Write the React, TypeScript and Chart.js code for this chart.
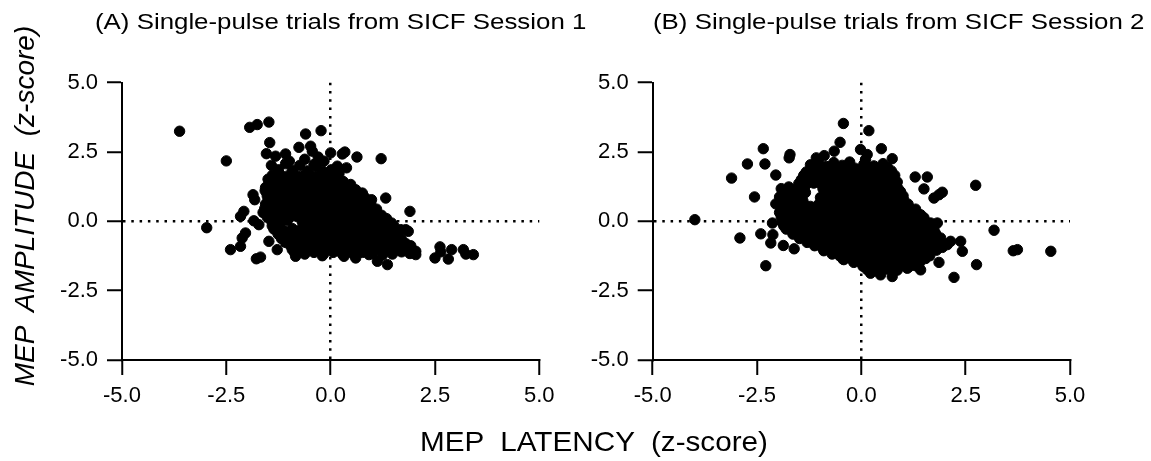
import React, { useEffect, useRef } from "react";
import { Chart, registerables } from "chart.js";

Chart.register(...registerables);

// ---------- text ----------
const panelTitles = [
  "(A) Single-pulse trials from SICF Session 1",
  "(B) Single-pulse trials from SICF Session 2",
];
const xAxisTitle = "MEP  LATENCY  (z-score)";
const yAxisTitle = "MEP  AMPLITUDE  (z-score)";

// ---------- axes ----------
const axisMin = -5;
const axisMax = 5;
const axisStep = 2.5;

// ---------- data: [latency z, amplitude z] ----------
const session1Spread: Array<[number, number]> = [
  [-3.62, 3.25], [-2.50, 2.18], [-2.97, -0.23],
  [-1.94, 3.39], [-1.76, 3.49], [-1.48, 3.58],
  [-1.46, 2.84], [-1.54, 2.44],
  [-0.60, 3.15], [-0.23, 3.27],
  [-0.76, 2.67], [-0.48, 2.71], [-0.44, 2.53],
  [0.00, 2.47], [0.28, 2.43], [0.34, 2.50], [0.63, 2.32], [1.21, 2.26],
  [-1.32, 2.35], [-1.08, 2.43], [-0.99, 2.17],
  [-0.16, 2.17], [-0.40, 2.05], [0.16, 1.99], [0.38, 1.93],
  [1.32, 0.84], [1.90, 0.36],
  [-1.86, 0.96], [-1.82, 0.78], [-1.57, 1.11],
  [-2.08, 0.36], [-2.16, 0.18],
  [-1.84, 0.02], [-1.72, -0.12],
  [-2.04, -0.42], [-2.12, -0.60], [-2.16, -0.90], [-2.40, -1.02],
  [-1.78, -1.35], [-1.68, -1.29],
  [-1.48, -0.72], [-1.28, -1.02],
  [-0.84, -1.26], [-0.20, -1.24], [0.32, -1.26], [0.60, -1.32],
  [0.92, -1.20], [1.12, -1.44], [1.36, -1.56],
  [1.20, -0.96], [1.44, -0.84], [1.68, -0.72], [1.80, -0.30],
  [1.86, -0.36], [1.68, -0.30], [2.04, -1.08], [1.96, -1.02], [2.04, -1.20],
  [2.50, -1.32], [2.62, -0.92], [2.64, -1.10], [2.82, -1.36], [2.90, -1.02],
  [3.18, -1.02], [3.24, -1.18], [3.42, -1.20],
];

const session1Cluster: Array<[number, number]> = [
  [-1.42, 2.02], [-1.25, 1.86], [-1.08, 2.08], [-0.92, 1.84], [-0.74, 2.02], [-0.56, 1.82],
  [-0.34, 1.98], [-0.18, 1.80], [0.02, 1.86], [-0.62, 2.24], [-0.30, 2.32],
  [-1.40, 1.66], [-1.22, 1.70], [-1.04, 1.63], [-0.86, 1.68], [-0.68, 1.64], [-0.50, 1.70],
  [-0.32, 1.63], [-0.14, 1.68], [0.04, 1.66], [0.20, 1.72],
  [-1.50, 1.52], [-1.32, 1.60], [-1.14, 1.48], [-0.96, 1.58], [-0.78, 1.50], [-0.60, 1.62],
  [-0.42, 1.46], [-0.24, 1.56], [-0.06, 1.50], [0.12, 1.60], [0.30, 1.44],
  [-1.48, 1.36], [-1.30, 1.33], [-1.12, 1.38], [-0.94, 1.34], [-0.76, 1.37], [-0.58, 1.32],
  [-0.40, 1.38], [-0.22, 1.34], [-0.04, 1.36], [0.14, 1.32], [0.32, 1.37], [0.48, 1.33],
  [-1.56, 1.22], [-1.38, 1.28], [-1.20, 1.16], [-1.02, 1.24], [-0.84, 1.18], [-0.66, 1.30],
  [-0.48, 1.20], [-0.30, 1.26], [-0.12, 1.16], [0.06, 1.24], [0.24, 1.18], [0.42, 1.28], [0.60, 1.14],
  [-1.54, 1.06], [-1.36, 1.03], [-1.18, 1.08], [-1.00, 1.04], [-0.82, 1.07], [-0.64, 1.02],
  [-0.46, 1.08], [-0.28, 1.04], [-0.10, 1.06], [0.08, 1.02], [0.26, 1.07], [0.44, 1.03],
  [0.62, 1.06], [0.76, 1.02],
  [-1.52, 0.92], [-1.34, 0.86], [-1.16, 0.96], [-0.98, 0.88], [-0.80, 0.94], [-0.62, 0.84],
  [-0.44, 0.92], [-0.26, 0.88], [-0.08, 0.96], [0.10, 0.86], [0.28, 0.92], [0.46, 0.88],
  [0.64, 0.96], [0.82, 0.86],
  [-1.50, 0.76], [-1.32, 0.73], [-1.14, 0.78], [-0.96, 0.74], [-0.78, 0.77], [-0.60, 0.72],
  [-0.42, 0.78], [-0.24, 0.74], [-0.06, 0.76], [0.12, 0.72], [0.30, 0.77], [0.48, 0.73],
  [0.66, 0.76], [0.84, 0.72], [0.98, 0.78],
  [-1.56, 0.62], [-1.38, 0.58], [-1.20, 0.66], [-1.02, 0.56], [-0.84, 0.62], [-0.66, 0.58],
  [-0.48, 0.64], [-0.30, 0.56], [-0.12, 0.62], [0.06, 0.58], [0.24, 0.66], [0.42, 0.56],
  [0.60, 0.62], [0.78, 0.58], [0.96, 0.64],
  [-1.58, 0.46], [-1.40, 0.43], [-1.22, 0.48], [-1.04, 0.44], [-0.86, 0.47], [-0.68, 0.42],
  [-0.50, 0.48], [-0.32, 0.44], [-0.14, 0.46], [0.04, 0.42], [0.22, 0.47], [0.40, 0.43],
  [0.58, 0.46], [0.76, 0.42], [0.94, 0.48], [1.10, 0.44],
  [-1.62, 0.32], [-1.44, 0.26], [-1.26, 0.34], [-1.08, 0.28], [-0.90, 0.32], [-0.72, 0.24],
  [-0.54, 0.34], [-0.36, 0.28], [-0.18, 0.32], [0.00, 0.26], [0.18, 0.34], [0.36, 0.28],
  [0.54, 0.30], [0.72, 0.24], [0.90, 0.34], [1.08, 0.28], [1.22, 0.22],
  [-1.52, 0.16], [-1.34, 0.13], [-1.16, 0.18], [-0.98, 0.14], [-0.80, 0.17], [-0.62, 0.12],
  [-0.44, 0.18], [-0.26, 0.14], [-0.08, 0.16], [0.10, 0.12], [0.28, 0.17], [0.46, 0.13],
  [0.64, 0.16], [0.82, 0.12], [1.00, 0.18], [1.18, 0.14], [1.34, 0.10],
  [-1.42, 0.02], [-1.22, -0.04], [-1.04, 0.04], [-0.68, -0.02], [-0.50, 0.04], [-0.32, -0.04],
  [-0.14, 0.02], [0.04, -0.02], [0.22, 0.04], [0.40, -0.04], [0.58, 0.02], [0.76, -0.02],
  [0.94, 0.04], [1.12, -0.04], [1.30, 0.02], [1.46, -0.06],
  [-1.40, -0.16], [-1.22, -0.13], [-0.60, -0.17], [-0.42, -0.13], [-0.24, -0.16], [-0.06, -0.12],
  [0.12, -0.17], [0.30, -0.13], [0.48, -0.16], [0.66, -0.12], [0.84, -0.17], [1.02, -0.13],
  [1.20, -0.16], [1.38, -0.12], [1.52, -0.18],
  [-1.36, -0.28], [-1.12, -0.34], [-0.92, -0.26], [-0.74, -0.32], [-0.56, -0.28], [-0.38, -0.34],
  [-0.20, -0.26], [-0.02, -0.32], [0.16, -0.28], [0.34, -0.34], [0.52, -0.26], [0.70, -0.32],
  [0.88, -0.28], [1.06, -0.34], [1.24, -0.26], [1.42, -0.32], [1.58, -0.40],
  [-1.26, -0.46], [-1.06, -0.43], [-0.88, -0.48], [-0.70, -0.44], [-0.52, -0.47], [-0.34, -0.42],
  [-0.16, -0.48], [0.02, -0.44], [0.20, -0.46], [0.38, -0.42], [0.56, -0.47], [0.74, -0.43],
  [0.92, -0.46], [1.10, -0.42], [1.28, -0.48], [1.46, -0.44], [1.62, -0.50],
  [-1.18, -0.62], [-1.00, -0.56], [-0.82, -0.64], [-0.64, -0.58], [-0.46, -0.62], [-0.28, -0.56],
  [-0.10, -0.64], [0.08, -0.58], [0.26, -0.62], [0.44, -0.56], [0.62, -0.64], [0.80, -0.58],
  [0.98, -0.62], [1.16, -0.56], [1.34, -0.64], [1.52, -0.58], [1.70, -0.66],
  [-1.08, -0.76], [-0.90, -0.73], [-0.72, -0.78], [-0.54, -0.74], [-0.36, -0.77], [-0.18, -0.72],
  [0.00, -0.78], [0.18, -0.74], [0.36, -0.76], [0.54, -0.72], [0.72, -0.77], [0.90, -0.73],
  [1.08, -0.76], [1.26, -0.72], [1.44, -0.78], [1.62, -0.74], [1.80, -0.80],
  [-0.96, -0.88], [-0.78, -0.94], [-0.60, -0.86], [-0.42, -0.92], [-0.24, -0.88], [-0.06, -0.94],
  [0.12, -0.86], [0.30, -0.92], [0.48, -0.88], [0.66, -0.94], [0.84, -0.86], [1.02, -0.92],
  [1.38, -0.92], [1.56, -0.88], [1.74, -0.94], [1.92, -0.88],
  [-0.92, -1.02], [-0.74, -1.05], [-0.52, -1.01], [-0.30, -1.04], [-0.08, -1.00], [0.14, -1.05],
  [0.36, -1.02], [0.58, -1.04], [0.80, -1.01], [1.02, -1.05], [1.24, -1.02], [1.46, -1.04],
  [1.68, -1.00], [1.86, -1.04],
  [-0.86, -1.14], [-0.62, -1.18], [-0.40, -1.12], [-0.16, -1.16], [0.06, -1.12], [0.28, -1.18],
  [0.52, -1.14], [0.76, -1.12], [1.00, -1.16], [1.24, -1.22], [1.48, -1.18], [1.70, -1.10], [1.90, -1.16],
];

const session2Spread: Array<[number, number]> = [
  [-3.99, 0.06], [-3.11, 1.56], [-2.73, 2.07], [-2.35, 2.62], [-2.31, 2.07], [-2.05, 1.67],
  [-2.56, 0.88], [-2.91, -0.60], [-2.41, -0.45], [-2.12, -0.48], [-2.17, -0.78],
  [-1.87, -0.87], [-1.61, -0.99], [-2.29, -1.60], [-1.71, 2.41], [-1.73, 2.29],
  [2.74, 1.30], [3.18, -0.32], [3.64, -1.06], [3.74, -1.02], [4.54, -1.08],
  [2.22, -2.02], [2.76, -1.56], [2.42, -1.08], [2.38, -0.72],
  [1.29, 1.60], [1.58, 1.60], [1.50, 1.17], [1.74, 0.84], [1.94, 1.05], [1.86, 0.96],
  [-0.43, 3.53], [0.18, 3.27], [-0.51, 2.85], [0.48, 2.62], [0.74, 2.26],
  [-0.02, 2.59], [0.14, 2.41], [0.10, 2.23], [-0.65, 2.53], [-1.08, 2.29], [-0.89, 2.37],
  [-1.37, 1.65], [1.82, -0.06], [-2.13, -0.06], [-2.05, 0.63],
  [1.86, -1.48], [2.14, -0.72], [1.90, -0.60], [1.42, -0.12], [1.74, -0.30],
  [0.22, -1.87], [0.46, -1.93], [0.74, -1.99], [1.10, -1.69], [1.42, -1.75], [-0.42, -1.38],
];

const session2Cluster: Array<[number, number]> = [
  [-1.22, 2.04], [-1.02, 2.10], [-0.84, 1.98], [-0.66, 2.12], [-0.46, 2.02], [-0.28, 2.14],
  [0.06, 2.06], [0.30, 2.00], [0.52, 2.08],
  [-1.12, 1.94], [-0.94, 1.92], [-0.76, 1.96], [-0.56, 1.93], [-0.36, 1.95], [-0.16, 1.92],
  [0.20, 1.94], [0.42, 1.92], [0.62, 1.96],
  [-1.32, 1.78], [-1.14, 1.84], [-0.96, 1.76], [-0.78, 1.86], [-0.60, 1.78], [-0.42, 1.84],
  [-0.24, 1.76], [-0.06, 1.86], [0.14, 1.78], [0.34, 1.84], [0.54, 1.76], [0.72, 1.82],
  [-1.38, 1.66], [-1.20, 1.63], [-1.02, 1.68], [-0.84, 1.64], [-0.66, 1.67], [-0.48, 1.62],
  [-0.30, 1.68], [-0.12, 1.64], [0.06, 1.66], [0.24, 1.62], [0.44, 1.67], [0.64, 1.63], [0.80, 1.66],
  [-1.44, 1.50], [-1.26, 1.44], [-1.08, 1.54], [-0.90, 1.46], [-0.72, 1.52], [-0.54, 1.44],
  [-0.36, 1.54], [-0.18, 1.46], [0.00, 1.52], [0.18, 1.44], [0.36, 1.54], [0.54, 1.46],
  [0.72, 1.52], [0.86, 1.42],
  [-1.50, 1.36], [-1.32, 1.33], [-1.14, 1.38], [-0.96, 1.34], [-0.78, 1.37], [-0.60, 1.32],
  [-0.42, 1.38], [-0.24, 1.34], [-0.06, 1.36], [0.12, 1.32], [0.30, 1.37], [0.48, 1.33],
  [0.66, 1.36], [0.84, 1.32],
  [-1.92, 1.18], [-1.74, 1.24], [-1.56, 1.16], [-1.38, 1.22], [-0.92, 1.18], [-0.74, 1.24],
  [-0.56, 1.16], [-0.38, 1.22], [-0.20, 1.16], [-0.02, 1.24], [0.16, 1.18], [0.34, 1.22],
  [0.52, 1.16], [0.70, 1.24], [0.88, 1.18],
  [-1.88, 1.06], [-1.70, 1.03], [-1.52, 1.08], [-1.34, 1.04], [-0.86, 1.07], [-0.68, 1.02],
  [-0.50, 1.08], [-0.32, 1.04], [-0.14, 1.06], [0.04, 1.02], [0.22, 1.07], [0.40, 1.03],
  [0.58, 1.06], [0.76, 1.02], [0.94, 1.07],
  [-1.96, 0.88], [-1.78, 0.94], [-1.60, 0.86], [-1.42, 0.92], [-0.98, 0.86], [-0.80, 0.94],
  [-0.62, 0.88], [-0.44, 0.92], [-0.26, 0.86], [-0.08, 0.94], [0.10, 0.88], [0.28, 0.92],
  [0.46, 0.86], [0.64, 0.94], [0.82, 0.88], [1.00, 0.92],
  [-1.94, 0.76], [-1.76, 0.73], [-1.58, 0.78], [-1.40, 0.74], [-0.96, 0.72], [-0.78, 0.77],
  [-0.60, 0.73], [-0.42, 0.76], [-0.24, 0.72], [-0.06, 0.77], [0.12, 0.73], [0.30, 0.76],
  [0.48, 0.72], [0.66, 0.77], [0.84, 0.73], [1.02, 0.76],
  [-1.92, 0.58], [-1.74, 0.64], [-1.56, 0.56], [-1.38, 0.62], [-1.22, 0.54], [-1.02, 0.62],
  [-0.84, 0.56], [-0.66, 0.64], [-0.48, 0.58], [-0.30, 0.62], [-0.12, 0.56], [0.06, 0.64],
  [0.24, 0.58], [0.42, 0.62], [0.60, 0.56], [0.78, 0.64], [0.96, 0.58], [1.12, 0.62],
  [-1.90, 0.46], [-1.72, 0.43], [-1.54, 0.48], [-1.36, 0.44], [-1.18, 0.42], [-1.00, 0.47],
  [-0.82, 0.43], [-0.64, 0.46], [-0.46, 0.42], [-0.28, 0.47], [-0.10, 0.43], [0.08, 0.46],
  [0.26, 0.42], [0.44, 0.47], [0.62, 0.43], [0.80, 0.46], [0.98, 0.42], [1.16, 0.47], [1.30, 0.44],
  [-1.96, 0.32], [-1.78, 0.26], [-1.60, 0.34], [-1.42, 0.28], [-1.24, 0.32], [-1.06, 0.26],
  [-0.88, 0.34], [-0.70, 0.28], [-0.52, 0.32], [-0.34, 0.26], [-0.16, 0.34], [0.02, 0.28],
  [0.20, 0.32], [0.38, 0.26], [0.56, 0.34], [0.74, 0.28], [0.92, 0.32], [1.10, 0.26],
  [1.28, 0.30], [1.42, 0.24],
  [-1.92, 0.16], [-1.74, 0.13], [-1.56, 0.18], [-1.38, 0.14], [-1.20, 0.17], [-1.02, 0.12],
  [-0.84, 0.18], [-0.66, 0.14], [-0.48, 0.16], [-0.30, 0.12], [-0.12, 0.17], [0.06, 0.13],
  [0.24, 0.16], [0.42, 0.12], [0.60, 0.18], [0.78, 0.14], [0.96, 0.16], [1.14, 0.12],
  [1.32, 0.17], [1.50, 0.13],
  [-1.90, -0.02], [-1.72, 0.04], [-1.54, -0.04], [-1.36, 0.02], [-1.18, -0.02], [-1.00, 0.04],
  [-0.82, -0.04], [-0.64, 0.02], [-0.46, -0.02], [-0.28, 0.04], [-0.10, -0.04], [0.08, 0.02],
  [0.26, -0.02], [0.44, 0.04], [0.62, -0.04], [0.80, 0.02], [0.98, -0.02], [1.16, 0.04],
  [1.34, -0.04], [1.52, 0.02], [1.66, -0.06],
  [-1.86, -0.16], [-1.68, -0.13], [-1.50, -0.18], [-1.32, -0.14], [-1.14, -0.17], [-0.96, -0.12],
  [-0.78, -0.18], [-0.60, -0.14], [-0.42, -0.16], [-0.24, -0.12], [-0.06, -0.17], [0.12, -0.13],
  [0.30, -0.16], [0.48, -0.12], [0.66, -0.18], [0.84, -0.14], [1.02, -0.16], [1.20, -0.12],
  [1.38, -0.17], [1.56, -0.13], [1.70, -0.18],
  [-1.80, -0.28], [-1.62, -0.34], [-1.44, -0.26], [-1.26, -0.32], [-1.08, -0.28], [-0.90, -0.34],
  [-0.72, -0.26], [-0.54, -0.32], [-0.36, -0.28], [-0.18, -0.34], [0.00, -0.26], [0.18, -0.32],
  [0.36, -0.28], [0.54, -0.34], [0.72, -0.26], [0.90, -0.32], [1.08, -0.28], [1.26, -0.34],
  [1.44, -0.26], [1.62, -0.32],
  [-1.64, -0.46], [-1.46, -0.43], [-1.28, -0.48], [-1.10, -0.44], [-0.92, -0.47], [-0.74, -0.42],
  [-0.56, -0.48], [-0.38, -0.44], [-0.20, -0.46], [-0.02, -0.42], [0.16, -0.47], [0.34, -0.43],
  [0.52, -0.46], [0.70, -0.42], [0.88, -0.48], [1.06, -0.44], [1.24, -0.46], [1.42, -0.42],
  [1.60, -0.47], [1.78, -0.44],
  [-1.48, -0.62], [-1.30, -0.56], [-1.12, -0.64], [-0.94, -0.58], [-0.76, -0.62], [-0.58, -0.56],
  [-0.40, -0.64], [-0.22, -0.58], [-0.04, -0.62], [0.14, -0.56], [0.32, -0.64], [0.50, -0.58],
  [0.68, -0.62], [0.86, -0.56], [1.04, -0.64], [1.22, -0.58], [1.40, -0.62], [1.58, -0.56], [1.76, -0.64],
  [-1.30, -0.76], [-1.12, -0.73], [-0.94, -0.78], [-0.76, -0.74], [-0.58, -0.77], [-0.40, -0.72],
  [-0.22, -0.78], [-0.04, -0.74], [0.14, -0.76], [0.32, -0.72], [0.50, -0.77], [0.68, -0.73],
  [0.86, -0.76], [1.04, -0.72], [1.22, -0.78], [1.40, -0.74], [1.58, -0.76], [1.76, -0.72], [1.94, -0.78],
  [-1.12, -0.88], [-0.94, -0.94], [-0.76, -0.86], [-0.58, -0.92], [-0.40, -0.88], [-0.22, -0.94],
  [-0.04, -0.86], [0.14, -0.92], [0.32, -0.88], [0.50, -0.94], [0.68, -0.86], [0.86, -0.92],
  [1.04, -0.88], [1.22, -0.94], [1.40, -0.86], [1.58, -0.92], [1.76, -0.88], [1.94, -0.94], [2.06, -0.84],
  [-0.90, -1.06], [-0.72, -1.03], [-0.54, -1.08], [-0.36, -1.04], [-0.18, -1.07], [0.00, -1.02],
  [0.18, -1.08], [0.36, -1.04], [0.54, -1.06], [0.72, -1.02], [0.90, -1.07], [1.08, -1.03],
  [1.26, -1.06], [1.44, -1.02], [1.62, -1.08], [1.80, -1.04],
  [-0.70, -1.18], [-0.52, -1.24], [-0.34, -1.16], [-0.16, -1.22], [0.02, -1.18], [0.20, -1.24],
  [0.38, -1.16], [0.56, -1.22], [0.74, -1.18], [0.92, -1.24], [1.10, -1.16], [1.28, -1.22],
  [1.46, -1.18], [1.64, -1.24],
  [-0.44, -1.36], [-0.26, -1.33], [-0.08, -1.38], [0.10, -1.34], [0.28, -1.37], [0.46, -1.32],
  [0.64, -1.38], [0.82, -1.34], [1.00, -1.36], [1.18, -1.32], [1.36, -1.37], [1.54, -1.34],
  [-0.18, -1.48], [0.02, -1.54], [0.22, -1.46], [0.42, -1.52], [0.62, -1.48], [0.82, -1.54],
  [1.02, -1.46], [1.22, -1.52], [1.40, -1.48],
  [0.04, -1.62], [0.26, -1.64], [0.48, -1.60], [0.70, -1.63], [0.92, -1.61], [1.14, -1.64], [1.30, -1.60],
  [0.14, -1.74], [0.36, -1.78], [0.60, -1.72], [0.86, -1.76],
];

const FONT = "'Liberation Sans', Arial, Helvetica, sans-serif";

function makeConfig(points: Array<[number, number]>, yWidth: number, padRight: number): any {
  const gridColor = (ctx: any) => (ctx.tick && ctx.tick.value === 0 ? "#000" : "rgba(0,0,0,0)");
  const common = {
    type: "linear",
    min: axisMin,
    max: axisMax,
    ticks: {
      stepSize: axisStep,
      autoSkip: false,
      maxRotation: 0,
      color: "#000",
      font: { family: FONT, size: 22 },
      callback: (v: any) => Number(v).toFixed(1),
    },
    grid: {
      display: true,
      drawOnChartArea: true,
      drawTicks: true,
      color: gridColor,
      lineWidth: 2.5,
      tickLength: 15,
      tickColor: "#000",
      tickWidth: 2,
    },
    border: { display: true, color: "#000", width: 2, dash: [2.5, 5.8] },
  };
  return {
    type: "scatter",
    data: {
      datasets: [
        {
          data: points.map(([x, y]) => ({ x, y })),
          pointRadius: 5.2,
          pointHoverRadius: 5.2,
          pointBackgroundColor: "#000",
          pointBorderColor: "#000",
          pointBorderWidth: 1,
          showLine: false,
        },
      ],
    },
    options: {
      animation: false,
      responsive: false,
      devicePixelRatio: 1,
      events: [],
      layout: { padding: { left: 0, right: padRight, top: 82.7, bottom: 0 } },
      plugins: {
        legend: { display: false },
        tooltip: { enabled: false },
        title: { display: false },
      },
      scales: {
        x: {
          ...common,
          position: "bottom",
          ticks: { ...common.ticks, padding: 8 },
          afterFit: (s: any) => {
            s.height = 101;
          },
        },
        y: {
          ...common,
          position: "left",
          ticks: { ...common.ticks, padding: 9 },
          afterFit: (s: any) => {
            s.width = yWidth;
          },
        },
      },
    },
  };
}

function Panel(props: { points: Array<[number, number]>; left: number; width: number; yWidth: number; padRight: number }) {
  const ref = useRef<HTMLCanvasElement | null>(null);
  useEffect(() => {
    if (!ref.current) return;
    const chart = new Chart(ref.current, makeConfig(props.points, props.yWidth, props.padRight));
    return () => chart.destroy();
  }, []);
  return (
    <canvas
      ref={ref}
      width={props.width}
      height={461}
      style={{ position: "absolute", left: props.left, top: 0, width: props.width, height: 461 }}
    />
  );
}

export default function App() {
  const textBase: React.CSSProperties = {
    position: "absolute",
    fontFamily: FONT,
    color: "#000",
    whiteSpace: "pre",
    margin: 0,
  };
  return (
    <div style={{ position: "absolute", left: 0, top: 0, width: 1151, height: 461, background: "#fff", overflow: "hidden" }}>
      <Panel points={[...session1Spread, ...session1Cluster]} left={0} width={575} yWidth={122} padRight={35.7} />
      <Panel points={[...session2Spread, ...session2Cluster]} left={575} width={576} yWidth={77.7} padRight={81} />
      <div style={{ ...textBase, left: 95, top: 11, fontSize: 22, lineHeight: "22px", transform: "scaleX(1.175)", transformOrigin: "0 50%" }}>
        {panelTitles[0]}
      </div>
      <div style={{ ...textBase, left: 653, top: 11, fontSize: 22, lineHeight: "22px", transform: "scaleX(1.175)", transformOrigin: "0 50%" }}>
        {panelTitles[1]}
      </div>
      <div
        style={{
          ...textBase,
          left: 25 - 250,
          top: 206 - 14,
          width: 500,
          textAlign: "center",
          fontSize: 28,
          lineHeight: "28px",
          fontStyle: "italic",
          transform: "rotate(-90deg)",
          transformOrigin: "50% 50%",
        }}
      >
        {yAxisTitle}
      </div>
      <div
        style={{
          ...textBase,
          left: 594 - 300,
          top: 442 - 14,
          width: 600,
          textAlign: "center",
          fontSize: 28,
          lineHeight: "28px",
          transform: "scaleX(1.06)",
          transformOrigin: "50% 50%",
        }}
      >
        {xAxisTitle}
      </div>
    </div>
  );
}
